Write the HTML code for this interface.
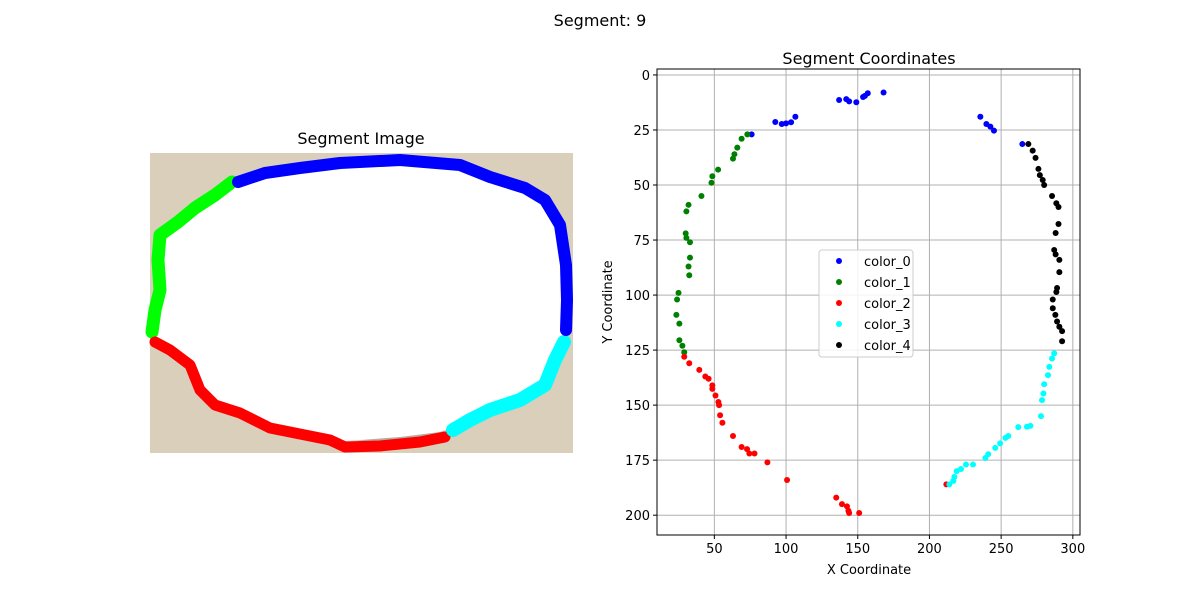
<!DOCTYPE html>
<html><head><meta charset="utf-8"><style>
body{margin:0;background:#fff;font-family:"Liberation Sans","DejaVu Sans",sans-serif}
svg text{font-family:"DejaVu Sans","Liberation Sans",sans-serif}
</style></head><body>
<svg width="1200" height="600" viewBox="0 0 1200 600" xmlns="http://www.w3.org/2000/svg">
<rect width="1200" height="600" fill="#fff"/>
<text x="600" y="26" font-size="16" text-anchor="middle">Segment: 9</text>
<text x="361" y="144" font-size="16" text-anchor="middle">Segment Image</text>
<g>
<rect x="150" y="153" width="423" height="300" fill="#d9cfbb"/>
<path d="M335,445 L440,440 L452,432 L420,430 Z" fill="#b5aea3"/>
<path id="ring" fill="#fff" stroke="none" d="M232,180 L215,195 L195,208 L178,222 L160,235 L158,260 L158,290 L153,310 L152,340 L170,350 L190,365 L200,390 L215,405 L240,415 L270,428 L300,435 L330,442 L360,440 L400,437 L440,432 L470,420 L490,410 L520,400 L545,385 L555,360 L565,340 L567,300 L567,265 L560,225 L545,200 L525,185 L490,175 L460,165 L400,158 L340,163 L300,168 L265,172 Z"/>
<g fill="none" stroke-linejoin="round" stroke-linecap="round">
<polyline stroke="#00ff00" stroke-width="13" points="232,182 215,195 195,208 178,222 160,235 158,260 160,290 155,310 152,332"/>
<polyline stroke="#ff0000" stroke-width="11" points="155,342 170,350 190,365 200,390 215,405 240,413 270,428 300,434 330,440 345,447 380,446 420,442 445,437"/>
<polyline stroke="#00ffff" stroke-width="14" points="453,430 470,420 490,410 520,400 545,385 555,360 564,342"/>
<polyline stroke="#0000ff" stroke-width="12" points="566,330 567,300 566,265 560,225 545,200 525,188 490,177 460,165 400,160 340,163 300,168 265,173 238,182"/>
</g>
</g>
<text x="869" y="64" font-size="16" text-anchor="middle">Segment Coordinates</text>
<g id="plot"></g>
<text x="869" y="574" font-size="13" text-anchor="middle">X Coordinate</text>
<text transform="translate(612,302) rotate(-90)" font-size="13" text-anchor="middle">Y Coordinate</text>
<g>
<rect x="819" y="250" width="94" height="107" rx="3" fill="#fff" fill-opacity="0.85" stroke="#ccc"/>
<g id="legend-items"></g>
</g>
</svg>
<script>
const seriesNames=["color_0","color_1","color_2","color_3","color_4"];
const seriesColors=["#0000ff","#008000","#ff0000","#00ffff","#000000"];
const xTicks=[50,100,150,200,250,300];
const yTicks=[0,25,50,75,100,125,150,175,200];
const c0x=[76,92.5,97,100,103.5,106.5,137,142,144,149,153.7,155,157,168,235.5,239.7,242.5,245,264.8];
const c0y=[27,21.4,22.3,22,21.5,19,11.4,11,12,12.4,10,9.5,8.3,8,19,22.3,23.5,25.3,31.4];
const c1x=[73,69,66,64,63,52.6,48.6,48,41,32,30.5,30,30.5,33,33,32,32.5,25,24,23.5,25.6,25.6,27.7,29];
const c1y=[27,29,33,36,38,43,46,49,55,59,62,72,74,76,83,87,91,99,102,109,113,120.5,123,126];
const c2x=[29,32.5,39.5,43.7,46,48.6,48.6,50.8,52.8,53.3,54,55.6,63,69,72.8,74.4,78,87,100.7,135,139,142.5,143.5,144,151,211.8];
const c2y=[128,131,134,137,138,141,142.6,145.6,148.6,150,154.6,158,164,169,170,172,172,176,184,192,195,196,198,199,199,186];
const c3x=[287,285.5,283.6,282.7,280,279.5,278.5,277.8,270.4,268,262,255,253,249.3,245.9,241,239,230.4,225.5,222,219,217.4,216.7,213.9];
const c3y=[126.5,128.8,132.6,136.4,140.5,144.7,147.7,155,159.4,159.8,160,164,164.9,167.4,169.4,172.3,174,177,177,179,180,182.6,184.4,186];
const c4x=[269,272,274,276,277,279,280,285.5,288.5,290,290,288,287,288,290.6,290.6,289,288.5,286,286,287.8,289,290.6,292.5,292.5];
const c4y=[31.4,34.4,37.7,42.7,45.5,47.7,50,55,58.3,60,67.7,71.8,79.5,81.5,84,89.6,96.8,98.6,102,106,109,112,114.4,116.4,121];
const seriesX=[c0x,c1x,c2x,c3x,c4x], seriesY=[c0y,c1y,c2y,c3y,c4y];
const L=657,R=1080,T=69,B=535,xmin=10,xmax=305,ymin=-2.7,ymax=209;
const sx=v=>L+(v-xmin)/(xmax-xmin)*(R-L);
const sy=v=>T+(v-ymin)/(ymax-ymin)*(B-T);
const NS="http://www.w3.org/2000/svg";
const g=document.getElementById('plot');
function mk(t,a,p){const e=document.createElementNS(NS,t);for(const k in a)e.setAttribute(k,a[k]);(p||g).appendChild(e);return e;}
xTicks.forEach(v=>{const x=sx(v);
const l=mk('line',{x1:x,x2:x,y1:T,y2:B,stroke:'#b0b0b0','stroke-width':1});


mk('line',{x1:x,x2:x,y1:B,y2:B+4,stroke:'#000'});
const t=mk('text',{x:x,y:B+18,'font-size':13,'text-anchor':'middle'});t.textContent=v;

});
yTicks.forEach(v=>{const y=sy(v);
const l=mk('line',{x1:L,x2:R,y1:y,y2:y,stroke:'#b0b0b0','stroke-width':1});


mk('line',{x1:L-4,x2:L,y1:y,y2:y,stroke:'#000'});
const t=mk('text',{x:L-7,y:y+5,'font-size':13,'text-anchor':'end'});t.textContent=v;

});
seriesX.forEach((xs,i)=>{xs.forEach((xv,j)=>{
const c=mk('circle',{cx:sx(xv),cy:sy(seriesY[i][j]),r:3,fill:seriesColors[i]});

});});
const fr=mk('rect',{x:L,y:T,width:R-L,height:B-T,fill:'none',stroke:'#000','stroke-width':1});


const lg=document.getElementById('legend-items');
seriesNames.forEach((n,i)=>{const y=261+i*21;
const e=mk('circle',{cx:839,cy:y,r:3,fill:seriesColors[i]},lg);


const t=mk('text',{x:864,y:y+5,'font-size':13},lg);t.textContent=n;

});
</script>
</body></html>
